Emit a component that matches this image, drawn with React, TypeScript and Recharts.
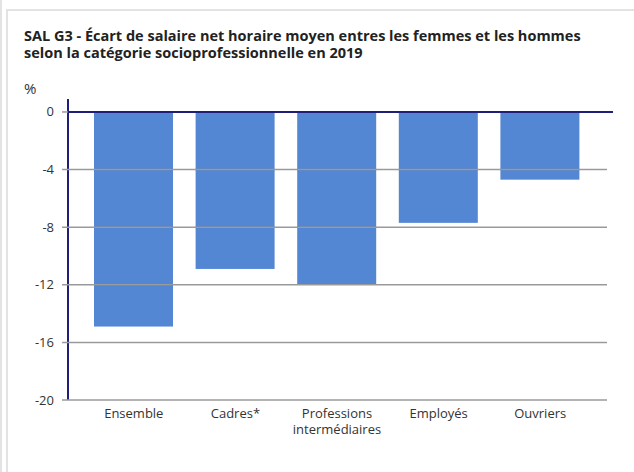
import React from "react";
import {
  BarChart,
  Bar,
  XAxis,
  YAxis,
  ReferenceLine,
} from "recharts";

const categories = [
  "Ensemble",
  "Cadres*",
  "Professions intermédiaires",
  "Employés",
  "Ouvriers",
];
const ecartValues = [-14.9, -10.9, -12.0, -7.7, -4.7];
const yTicks = [0, -4, -8, -12, -16, -20];

const data = categories.map((label, i) => ({ label, value: ecartValues[i] }));

const FONT = "'Open Sans', 'Noto Sans', sans-serif";

// y tick: label + full-width gridline
const YTick = (props: any) => {
  const { y, payload } = props;
  return (
    <g>
      <line
        x1={62}
        x2={payload.value === 0 ? 68 : 607}
        y1={y}
        y2={y}
        stroke="#9a9a9a"
        strokeWidth={1.5}
      />
      <text x={54} y={y} dy={4.5} textAnchor="end" fontSize={13} fill="#333" fontFamily={FONT}>
        {payload.value}
      </text>
    </g>
  );
};

const XTick = (props: any) => {
  const { x, y, payload } = props;
  const words = payload.value === "Professions intermédiaires"
    ? ["Professions", "intermédiaires"]
    : [payload.value];
  return (
    <text x={x} y={y + 10} textAnchor="middle" fontSize={13} fill="#333" fontFamily={FONT}>
      {words.map((w: string, i: number) => (
        <tspan key={i} x={x} dy={i === 0 ? 0 : 16}>
          {w}
        </tspan>
      ))}
    </text>
  );
};

// bar with the gridlines showing through it (the original draws them over the bars)
const BarShape = (props: any) => {
  const { x, width, value } = props;
  let { y, height } = props;
  if (height < 0) {
    y = y + height;
    height = -height;
  }
  const v = Array.isArray(value) ? value[1] - value[0] : value;
  const ppu = Math.abs(height / v);
  const lines = yTicks.filter((t) => t < 0 && Math.abs(t) * ppu < height);
  return (
    <g>
      <rect x={x} y={y} width={width} height={height} fill="#5487d3" />
      {lines.map((t) => (
        <line
          key={t}
          x1={x}
          x2={x + width}
          y1={y + Math.abs(t) * ppu}
          y2={y + Math.abs(t) * ppu}
          stroke="#4673ba"
          strokeWidth={1.5}
        />
      ))}
    </g>
  );
};

export default function App() {
  return (
    <div
      style={{
        position: "fixed",
        left: 0,
        top: 0,
        width: 634,
        height: 472,
        background: "#fff",
        overflow: "hidden",
        fontFamily: FONT,
      }}
    >
      {/* page + card borders */}
      <div style={{ position: "absolute", left: 0, top: 0, width: 2, height: 472, background: "#e3e3e3" }} />
      <div style={{ position: "absolute", left: 6, top: 9, width: 628, height: 2, background: "#e3e3e3" }} />
      <div style={{ position: "absolute", left: 6, top: 9, width: 2, height: 463, background: "#e3e3e3" }} />

      <div
        style={{
          position: "absolute",
          left: 24,
          top: 27,
          fontSize: 14.5,
          fontWeight: 700,
          lineHeight: "17px",
          color: "#222",
          whiteSpace: "nowrap",
        }}
      >
        SAL G3 - Écart de salaire net horaire moyen entres les femmes et les hommes
        <br />
        selon la catégorie socioprofessionnelle en 2019
      </div>
      <div style={{ position: "absolute", left: 24, top: 78, fontSize: 15, color: "#333" }}>%</div>

      <div style={{ position: "absolute", left: 0, top: 0 }}>
        <BarChart
          width={634}
          height={472}
          data={data}
          margin={{ top: 99, right: 21, bottom: 12, left: 0 }}
          barSize={79}
        >
          <XAxis
            dataKey="label"
            axisLine={false}
            tickLine={false}
            interval={0}
            height={60}
            padding={{ left: 15, right: 22 }}
            tick={<XTick />}
          />
          <YAxis
            width={68}
            domain={[-20, 0.9]}
            ticks={yTicks}
            allowDataOverflow
            axisLine={{ stroke: "#1f1f7a", strokeWidth: 2 }}
            tickLine={false}
            tick={<YTick />}
          />
          <Bar dataKey="value" fill="#5487d3" shape={<BarShape />} isAnimationActive={false} />
          <ReferenceLine y={0} stroke="#1f1f7a" strokeWidth={2} ifOverflow="extendDomain" />
        </BarChart>
      </div>
    </div>
  );
}
